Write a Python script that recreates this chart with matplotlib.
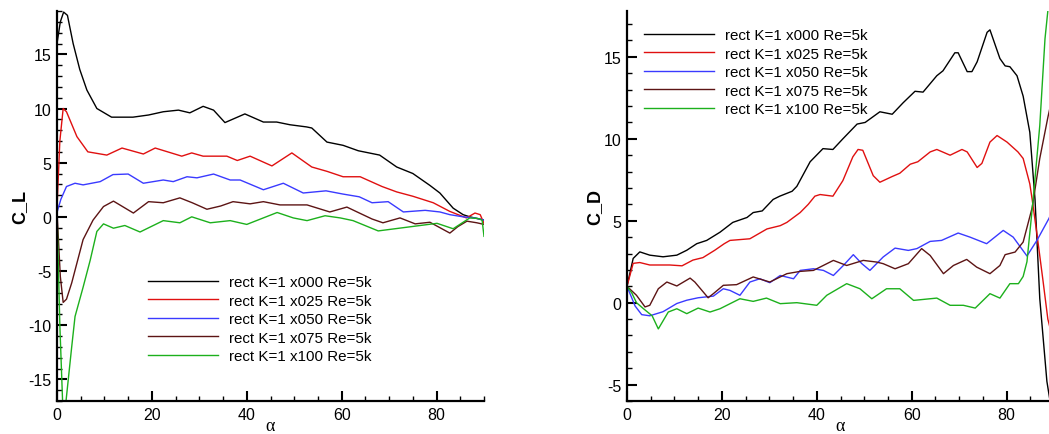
import matplotlib
matplotlib.use("Agg")
import matplotlib.pyplot as plt
from matplotlib.ticker import MultipleLocator

# ---------------- data ----------------
labels = ["rect K=1 x000 Re=5k", "rect K=1 x025 Re=5k", "rect K=1 x050 Re=5k",
          "rect K=1 x075 Re=5k", "rect K=1 x100 Re=5k"]
colors = ["#000000", "#e01010", "#3a3aff", "#5c1414", "#1cb01c"]

# Lift coefficient
cl_a_x000 = [0, 0.7, 1.4, 2.2, 3.4, 4.8, 6.3, 8.4, 11.5, 16, 19.3, 22.4, 25.6, 28, 30.8, 33, 35.4,
             39.6, 43.5, 46.3, 49.1, 52.6, 53.7, 56.9, 60.3, 63.5, 68, 71.6, 75, 78.6, 80.7,
             83.5, 85.6, 87, 90]
cl_x000 = [16.0, 18.0, 18.9, 18.6, 16.0, 13.6, 11.7, 10.0, 9.2, 9.2, 9.4, 9.7, 9.85, 9.6, 10.2, 9.85,
           8.7, 9.5, 8.75, 8.75, 8.5, 8.3, 8.2, 6.9, 6.6, 6.1, 5.7, 4.6, 4.0, 2.9, 2.2,
           0.8, 0.2, 0.0, -0.3]

cl_a_x025 = [0, 0.6, 1.3, 2, 4.2, 6.5, 10.5, 13.7, 18.2, 20.7, 26.3, 28.4, 30.8, 35.8, 38, 40.7,
             45.3, 49.5, 53.7, 56.9, 60.3, 63.9, 68.5, 71.6, 75, 79.3, 82.8, 86.3, 88.1, 89.2, 90]
cl_x025 = [0.8, 7.0, 10.0, 9.7, 7.4, 6.0, 5.7, 6.35, 5.8, 6.35, 5.6, 5.9, 5.6, 5.6, 5.2, 5.6,
           4.7, 5.9, 4.6, 4.2, 3.7, 3.7, 2.8, 2.3, 1.9, 1.3, 0.5, -0.1, 0.35, 0.2, -0.6]

cl_a_x050 = [0, 0.8, 2, 3.8, 5.5, 9.1, 11.8, 15, 18.2, 22.4, 24.5, 27.4, 29.5, 33, 36.5, 38.6,
             43.5, 47.7, 51.9, 56.7, 60.3, 63.7, 66.4, 69.8, 73, 77.6, 80.7, 82.8, 85.6, 88, 90]
cl_x050 = [0.4, 1.6, 2.8, 3.1, 2.95, 3.25, 3.9, 3.95, 3.1, 3.4, 3.25, 3.7, 3.6, 3.95, 3.4, 3.4,
           2.5, 3.1, 2.2, 2.4, 2.1, 1.85, 1.3, 1.4, 0.45, 0.6, 0.45, 0.2, 0.0, -0.1, -0.3]

cl_a_x075 = [0, 0.7, 1.3, 2, 3.1, 5.5, 7.6, 9.8, 11.9, 16.1, 19.3, 22.4, 25.9, 28.5, 31.6, 34.5,
             37.1, 40.7, 43.5, 47, 52.7, 57.5, 61.1, 63.5, 66.4, 68.7, 72.3, 75.5, 78.6, 82.8,
             84.5, 86.4, 88.5, 90]
cl_x075 = [0.5, -5.5, -7.9, -7.6, -6.1, -2.1, -0.3, 0.95, 1.45, 0.35, 1.4, 1.3, 1.75, 1.3, 0.7, 1.0,
           1.4, 1.2, 1.4, 1.1, 1.1, 0.45, 0.9, 0.4, -0.2, -0.55, -0.1, -0.65, -0.5, -1.5,
           -0.9, -0.4, -0.55, -0.7]

cl_a_x100 = [0, 0.6, 1.3, 1.9, 3.1, 3.8, 5.5, 7, 8.4, 9.8, 11.9, 14.3, 17.5, 22.4, 25.9, 28.4,
             32.3, 36.5, 40, 46.4, 49.8, 52.7, 56.5, 59.7, 62.4, 67.7, 80.1, 83.5, 87, 88.7,
             89.6, 90]
cl_x100 = [0.5, -10.0, -18.5, -17.0, -12.0, -9.2, -6.5, -4.0, -1.35, -0.65, -1.05, -0.8, -1.4,
           -0.35, -0.55, 0.0, -0.55, -0.35, -0.7, 0.4, -0.1, -0.35, 0.1, -0.1, -0.35, -1.3,
           -0.6, -1.1, -0.1, -0.15, -0.3, -1.8]

# Drag coefficient
cd_a_x000 = [0, 1.3, 2.7, 4.8, 7.6, 10.5, 12.6, 14.7, 16.8, 19.6, 22.3, 25.3, 26.6, 28.5, 30.8,
             32.2, 34.8, 35.8, 38.6, 41.3, 43.4, 45.5, 48.5, 50.2, 53.3, 55.9, 58.2, 60.7, 62.4,
             65.3, 66.6, 69.1, 69.8, 71.7, 72.7, 73.8, 75.9, 76.5, 78.6, 79.7, 80.7, 82.2, 83.5,
             84.9, 86, 87, 88.5, 90]
cd_x000 = [1.0, 2.7, 3.1, 2.9, 2.8, 2.9, 3.2, 3.6, 3.8, 4.3, 4.9, 5.2, 5.5, 5.6, 6.3,
           6.5, 6.8, 7.1, 8.6, 9.4, 9.35, 10.0, 10.9, 11.0, 11.65, 11.5, 12.2, 12.9, 12.85,
           13.85, 14.15, 15.25, 15.25, 14.1, 14.1, 14.7, 16.5, 16.65, 14.9, 14.45, 14.4, 13.85, 12.6,
           10.4, 6.3, 0.25, -4.8, -7.5]

cd_a_x025 = [0, 1.3, 2.7, 4.8, 9, 11.6, 13.9, 16, 18.5, 20.5, 21.7, 25.9, 29.5, 32.3, 33.7, 36.5,
             38.2, 39.6, 40.7, 43.4, 45.5, 47.6, 48.7, 49.7, 51.9, 53.3, 55.9, 57.5, 59.7, 61.3,
             63.9, 65.3, 68.1, 70.6, 71.7, 73.8, 74.8, 76.5, 78, 80.1, 82.4, 83.5, 84.9, 85.4,
             86.4, 87.7, 88.7, 90]
cd_x025 = [1.0, 2.4, 2.45, 2.3, 2.3, 2.25, 2.6, 2.75, 3.2, 3.6, 3.8, 3.9, 4.5, 4.7, 4.9, 5.5,
           6.0, 6.5, 6.6, 6.5, 7.45, 8.9, 9.35, 9.3, 7.75, 7.35, 7.7, 7.9, 8.45, 8.6,
           9.2, 9.35, 9.0, 9.35, 9.2, 8.25, 8.5, 9.8, 10.2, 9.8, 9.2, 8.8, 7.25, 6.3,
           4.2, 1.3, -1.0, -2.5]

cd_a_x050 = [0, 1.7, 3.1, 4.8, 7.6, 10.5, 12.6, 15, 18.2, 20.3, 21.7, 23.8, 25.9, 28, 30.1, 32.3,
             35.1, 36.5, 39.3, 41.4, 43.5, 45.6, 47.7, 49.5, 51.2, 54, 56.5, 59.3, 61.1, 63.9,
             66.3, 69.8, 72.3, 75.8, 79.3, 81.4, 84.3, 86.4, 88.9, 90]
cd_x050 = [1.0, -0.2, -0.73, -0.8, -0.55, -0.05, 0.15, 0.3, 0.4, 0.85, 0.75, 0.45, 1.26, 1.46, 1.22,
           1.66, 1.46, 1.97, 2.07, 1.97, 1.66, 2.27, 2.93, 2.38, 1.97, 2.79, 3.33, 3.19, 3.3,
           3.74, 3.8, 4.25, 4.0, 3.6, 4.41, 4.0, 2.85, 3.8, 5.12, 5.8]

cd_a_x075 = [0, 2, 3.8, 4.8, 6.6, 8.4, 10.5, 13.3, 14.3, 17.1, 18.2, 20.3, 23.1, 26.6, 30.1, 33.7,
             36.5, 39.3, 43.5, 46.3, 49.8, 52.6, 54, 56.5, 59.3, 62.1, 63.9, 66.7, 68.8, 71.6,
             73.7, 76.5, 78.6, 79.7, 81.8, 83.5, 85.4, 87, 88.7, 90]
cd_x075 = [1.0, 0.45, -0.26, -0.16, 0.85, 1.26, 1.02, 1.5, 1.26, 0.3, 0.55, 1.06, 1.1, 1.57, 1.26,
           1.77, 1.91, 1.97, 2.58, 2.27, 2.58, 2.48, 2.38, 2.07, 2.38, 3.3, 2.88, 1.77, 2.27,
           2.64, 2.17, 1.77, 2.27, 2.93, 3.09, 3.7, 5.8, 8.8, 11.3, 13.0]

cd_a_x100 = [0, 1, 2, 3.4, 5.3, 6.6, 8.7, 10.5, 12.6, 15, 17.5, 19.6, 23.8, 26.6, 29.4, 32.3,
             35.8, 40, 42.1, 46.3, 49.1, 51.6, 54.7, 57.5, 60.4, 65.3, 68.1, 70.9, 73.4, 76.5,
             78.6, 80.7, 82.5, 83.5, 84.3, 85.6, 87, 88.1, 88.7, 90]
cd_x100 = [1.0, 0.6, 0.0, -0.35, -0.8, -1.6, -0.57, -0.37, -0.67, -0.33, -0.57, -0.37, 0.24, 0.08,
           0.28, -0.06, 0.0, -0.16, 0.45, 1.16, 0.85, 0.24, 0.85, 0.85, 0.14, 0.28, -0.16, -0.16,
           -0.33, 0.55, 0.28, 1.16, 1.16, 1.6, 2.5, 6.3, 10.8, 16.1, 17.8, 18.5]

cl_alpha = [cl_a_x000, cl_a_x025, cl_a_x050, cl_a_x075, cl_a_x100]
cl_vals = [cl_x000, cl_x025, cl_x050, cl_x075, cl_x100]
cd_alpha = [cd_a_x000, cd_a_x025, cd_a_x050, cd_a_x075, cd_a_x100]
cd_vals = [cd_x000, cd_x025, cd_x050, cd_x075, cd_x100]

# ---------------- figure ----------------
W, H = 1049, 435
plt.rcParams['font.family'] = ['Liberation Sans', 'DejaVu Sans']
plt.rcParams['axes.unicode_minus'] = False
fig = plt.figure(figsize=(W / 100, H / 100), dpi=100)


def px_axes(x0, x1, y0, y1):
    return fig.add_axes([x0 / W, 1 - y1 / H, (x1 - x0) / W, (y1 - y0) / H])


axL = px_axes(57, 484, 12, 402)
axR = px_axes(627, 1054, 12, 402)


def style(ax, ylim, ylabel):
    ax.set_xlim(0, 90)
    ax.set_ylim(*ylim)
    for s in ("top", "right"):
        ax.spines[s].set_visible(False)
    for s in ("left", "bottom"):
        ax.spines[s].set_linewidth(1.6)
    ax.xaxis.set_major_locator(MultipleLocator(20))
    ax.xaxis.set_minor_locator(MultipleLocator(5))
    ax.yaxis.set_major_locator(MultipleLocator(5))
    ax.yaxis.set_minor_locator(MultipleLocator(1))
    ax.tick_params(which="major", direction="in", length=7.5, width=1.5,
                   labelsize=11.5, pad=4)
    ax.tick_params(which="minor", direction="in", length=3.8, width=1.0)
    ax.tick_params(top=False, right=False, which="both")
    ax.set_xlabel("α", family="Liberation Serif", fontsize=13, labelpad=-3)
    ax.set_ylabel(ylabel, fontsize=13, fontweight="bold", labelpad=0)
    ax.patch.set_visible(False)


for a, v, c, lab in zip(cl_alpha, cl_vals, colors, labels):
    axL.plot(a, v, color=c, lw=1.0, label=lab)
for a, v, c, lab in zip(cd_alpha, cd_vals, colors, labels):
    axR.plot(a, v, color=c, lw=1.0, label=lab)

style(axL, (-17, 19), "C_L")
style(axR, (-6, 17.8), "C_D")

legkw = dict(loc="upper left", frameon=False, fontsize=10.9, handlelength=4.6,
             handletextpad=0.73, labelspacing=0.3, borderpad=0, borderaxespad=0,
             bbox_transform=fig.transFigure)
axL.legend(bbox_to_anchor=(148 / W, 1 - 276 / H), **legkw)
axR.legend(bbox_to_anchor=(644 / W, 1 - 29 / H), **legkw)

fig.savefig("out.png", dpi=100)
